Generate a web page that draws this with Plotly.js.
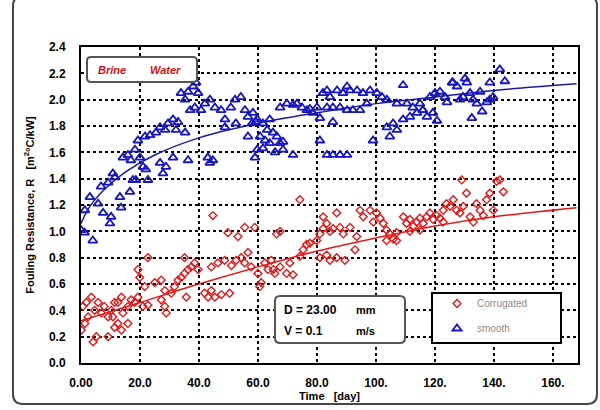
<!DOCTYPE html>
<html><head><meta charset="utf-8">
<script src="https://cdn.plot.ly/plotly-3.0.1.min.js"></script>
<style>html,body{margin:0;padding:0;background:#fff}#chart{width:600px;height:410px}</style>
</head><body><div id="chart"></div>
<script>
// ---- data ----
const smoothX = [0,1.2,4,1.3,3,5.8,7.5,9.8,10.2,6.8,9.2,11.5,10.8,13.2,13.6,16.6,17.6,18.6,22.7,14.2,15.9,16.9,18.3,20,21,22,19.3,21.7,23.4,25.4,26.8,28.5,29.5,31.2,32.9,32.2,35.3,26.8,28.8,27.8,31.2,36.3,33.9,36.3,38,39,39.7,35.3,37,38.6,40.7,42,43.7,45.4,47.5,48.8,50.8,52.2,54.2,55.6,56.6,58.3,59.3,48.8,52.5,56.6,43.7,43,44.7,59,
  59.7,58,61.7,64,63.1,65.1,60.7,62.4,66.4,64,67.5,68.5,59.7,61.7,65.8,68.5,71.9,67.5,69.8,71.9,73.2,74.9,76.6,77.6,80,82,84.4,83.4,86.8,88.8,91.2,90.2,93.6,95.6,98,100.3,102,96.9,94.6,92.2,90.2,87.8,85.4,83.4,78.6,81,85.4,81,83.4,85.4,87.8,90.2,99,103.7,105.8,107.1,104.7,109.2,111.5,113.9,115.9,112.5,109.2,103.7,107.1,110.5,
  114.9,115.9,117.3,119.3,120.7,118.3,120,121.7,123.4,124.1,125.8,126.1,127.5,128.5,129.5,130.2,130.8,131.9,132.9,134.2,135.3,136,132.5,137.6,138.6,139.7,138.6,142,143.7];
const smoothY = [1.01,0.99,0.93,1.16,1.26,1.21,1.14,1.06,1.11,1.34,1.37,1.41,1.44,1.26,1.18,1.30,1.39,1.39,1.39,1.56,1.58,1.54,1.62,1.56,1.49,1.47,1.69,1.72,1.73,1.75,1.79,1.77,1.82,1.85,1.83,1.77,1.75,1.52,1.49,1.44,1.56,1.54,2.05,2.06,2.10,2.13,2.05,2.00,1.92,1.94,1.92,1.97,2.00,1.94,1.92,1.85,1.94,2.00,2.02,1.92,1.87,1.90,1.83,1.79,1.82,1.72,1.52,1.56,1.54,1.56,
  1.85,1.82,1.82,1.85,1.77,1.75,1.72,1.69,1.72,1.67,1.67,1.68,1.62,1.63,1.60,1.62,1.58,1.94,1.97,1.96,1.97,1.94,1.92,1.93,1.94,2.05,2.02,2.07,2.07,2.05,2.07,2.10,2.07,2.05,2.07,2.05,2.02,1.97,1.92,1.92,1.92,1.94,1.94,1.94,1.90,1.86,1.83,1.69,1.58,1.58,1.58,1.58,1.69,1.79,1.82,1.77,1.72,1.85,1.87,1.90,1.92,1.94,2.11,2.00,1.97,1.97,
  1.97,1.92,1.87,1.90,1.84,2.02,2.05,2.06,2.02,1.98,2.13,2.13,2.10,2.00,2.02,2.16,2.13,2.05,2.00,1.97,2.06,1.91,1.86,1.98,2.00,2.02,2.13,2.23,2.14];

const corrX = [0.1,1.3,2.4,0.7,1.8,3.5,4.6,5.8,6.9,7.9,9.2,10.3,11.4,4.1,5.2,9.2,11.4,12.5,13.7,15.9,14.2,15.9,17,18.2,19.3,21,22.7,13.7,12.5,10.8,
  22.7,19.3,19.9,21.6,25,27.2,28.4,27.2,28.4,28.9,30.6,31.7,32.9,34,35.1,36.3,37.4,35.1,38.5,39.7,35.7,41.9,44.2,43.1,45.4,47.6,50.4,44.7,
  44.2,46.4,48.7,51,52.6,54.3,55.5,56.6,53.2,49.8,55.5,58.9,57.7,60,61.1,62.3,64.5,63.4,65.7,60.6,
  65.2,67.5,69.7,70.8,71.9,74.2,75.3,76.5,77.6,79.9,81,82.1,83.3,84.4,85.5,87.8,88.9,91.2,93.5,92.9,84.4,86.7,83.3,89.5,81,66.3,67.5,74.2,82.1,86.7,
  94.6,95.7,98,100.2,101.4,99.1,102.5,103.6,104.7,105.9,107,109.3,110.4,111.5,112.7,113.8,114.9,116,117.2,118.3,119.4,120.6,121.7,122.8,123.9,125.1,126.2,127.3,128.5,129.6,130.7,131.9,133,134.1,135.3,136.4,137.5,138.6,139.8,140.9,142,143.2,129.1,122.8,114.9,111.5,107,103.6];
const corrY = [0.25,0.30,0.35,0.43,0.46,0.50,0.40,0.46,0.38,0.43,0.35,0.40,0.46,0.16,0.20,0.20,0.27,0.30,0.25,0.30,0.38,0.43,0.48,0.46,0.50,0.43,0.44,0.50,0.46,0.35,
  0.80,0.71,0.65,0.58,0.61,0.63,0.55,0.48,0.43,0.38,0.53,0.58,0.63,0.65,0.68,0.71,0.73,0.80,0.76,0.71,0.50,0.53,0.55,0.50,0.50,0.52,0.53,1.12,
  0.73,0.76,0.78,0.74,0.78,0.80,0.76,0.84,0.96,0.99,1.03,1.03,0.73,0.68,0.61,0.76,0.78,0.71,0.68,0.58,
  0.71,0.73,0.68,0.76,0.67,0.81,0.86,0.90,0.91,0.93,0.98,1.02,1.06,1.00,1.02,1.03,0.98,1.03,0.96,0.86,0.78,0.80,0.82,0.78,0.80,0.98,1.00,1.24,1.11,1.14,
  1.16,1.11,1.16,1.14,1.10,1.07,1.06,1.01,0.98,0.94,0.99,1.11,1.06,1.09,1.04,1.07,1.10,1.06,1.11,1.14,1.09,1.12,1.10,1.16,1.21,1.19,1.24,1.16,1.14,1.19,1.29,1.11,1.07,1.21,1.16,1.12,1.24,1.29,1.16,1.38,1.39,1.30,1.39,1.07,1.01,1.00,0.93,0.93];

const smoothFitX = [0,3,8,15,25,40,60,80,100,120,140,168];
const smoothFitY = [1.06,1.19,1.32,1.45,1.58,1.71,1.82,1.90,1.97,2.02,2.07,2.12];
const corrFitX = [0,10,20,40,60,80,100,120,140,168];
const corrFitY = [0.32,0.39,0.46,0.60,0.73,0.85,0.95,1.04,1.11,1.18];

const xTickVals = [0,20,40,60,80,100,120,140,160];
const xTickText = ["0.00","20.0","40.0","60.0","80.0","100.","120.","140.","160."];
const yTickVals = [0,0.2,0.4,0.6,0.8,1.0,1.2,1.4,1.6,1.8,2.0,2.2,2.4];
const yTickText = ["0.0","0.2","0.4","0.6","0.8","1.0","1.2","1.4","1.6","1.8","2.0","2.2","2.4"];

// ---- layout helpers (pixel -> paper) ----
const L = 81, R = 578, T = 47, B = 363;
const W = R - L, H = B - T;
const px = v => (v - L) / W;
const py = v => (B - v) / H;
function rrect(x0, y0, x1, y1, r) {
  const f = (x, y) => px(x).toFixed(5) + ',' + py(y).toFixed(5);
  return 'M' + f(x0 + r, y0) + ' L' + f(x1 - r, y0) + ' Q' + f(x1, y0) + ' ' + f(x1, y0 + r) +
    ' L' + f(x1, y1 - r) + ' Q' + f(x1, y1) + ' ' + f(x1 - r, y1) +
    ' L' + f(x0 + r, y1) + ' Q' + f(x0, y1) + ' ' + f(x0, y1 - r) +
    ' L' + f(x0, y0 + r) + ' Q' + f(x0, y0) + ' ' + f(x0 + r, y0) + ' Z';
}

const red = '#e01818', blue = '#1515c0';
const traces = [
  {x: corrFitX, y: corrFitY, mode: 'lines', line: {color: red, width: 1.5, shape: 'spline'}, showlegend: false, hoverinfo: 'skip'},
  {x: smoothFitX, y: smoothFitY, mode: 'lines', line: {color: '#1a1aa8', width: 1.5, shape: 'spline'}, showlegend: false, hoverinfo: 'skip'},
  {x: corrX, y: corrY, mode: 'markers', name: 'Corrugated', legendgroup: 'a',
   marker: {symbol: 'diamond-open', size: 6, color: red, line: {width: 1.4, color: red}}},
  {x: smoothX, y: smoothY, mode: 'markers', name: 'smooth', legendgroup: 'b',
   marker: {symbol: 'triangle-up-open', size: 8, color: blue, line: {width: 1.8, color: blue}}}
];

const fam = 'Liberation Sans, Arial, sans-serif';
const axFont = {family: fam, size: 12, color: '#000', weight: 'bold'};
const layout = {
  width: 600, height: 410,
  margin: {l: L, r: 600 - R, t: T, b: 410 - B, pad: 0},
  paper_bgcolor: '#fff', plot_bgcolor: '#fff',
  showlegend: true,
  xaxis: {
    range: [0, 168.5], tickvals: xTickVals, ticktext: xTickText, tickfont: axFont,
    showgrid: true, gridcolor: '#000', gridwidth: 1.8, griddash: '3px,3px',
    zeroline: false, showline: true, linecolor: '#000', linewidth: 2, mirror: true,
    ticks: '', ticklabelstandoff: 8,
    title: {text: 'Time   [day]', font: {family: fam, size: 11, color: '#000', weight: 'bold'}, standoff: 2}
  },
  yaxis: {
    range: [0, 2.4], tickvals: yTickVals, ticktext: yTickText, tickfont: axFont,
    showgrid: true, gridcolor: '#000', gridwidth: 1.8, griddash: '3px,3px',
    zeroline: false, showline: true, linecolor: '#000', linewidth: 2, mirror: true,
    ticks: '', ticklabelstandoff: 11,
    title: {text: 'Fouling Resistance, R   [m<sup>2</sup>°C/kW]', font: {family: fam, size: 11, color: '#000', weight: 'bold'}, standoff: 12}
  },
  legend: {
    x: px(437), y: py(289), xanchor: 'left', yanchor: 'top',
    bgcolor: 'rgba(0,0,0,0)', borderwidth: 0, tracegroupgap: 6, traceorder: 'grouped',
    font: {family: fam, size: 10, color: '#8a8a8a'}
  },
  shapes: [
    {type: 'path', xref: 'paper', yref: 'paper', path: rrect(13, -4, 597, 404, 10), line: {color: '#444', width: 2}, layer: 'below'},
    {type: 'path', xref: 'paper', yref: 'paper', path: rrect(87, 57, 197, 82, 4), line: {color: '#555', width: 2}, fillcolor: '#fff', layer: 'above'},
    {type: 'path', xref: 'paper', yref: 'paper', path: rrect(275, 296, 405, 343, 5), line: {color: '#555', width: 2}, fillcolor: '#fff', layer: 'above'},
    {type: 'rect', xref: 'paper', yref: 'paper', x0: px(432), x1: px(561), y0: py(343), y1: py(293), line: {color: '#000', width: 2}, fillcolor: '#fff', layer: 'above'}
  ],
  annotations: [
    {xref: 'paper', yref: 'paper', x: px(96), y: py(69.5), xanchor: 'left', yanchor: 'middle', showarrow: false,
     text: '<b><i>Brine</i></b>', font: {family: fam, size: 11, color: '#d01010'}},
    {xref: 'paper', yref: 'paper', x: px(148), y: py(69.5), xanchor: 'left', yanchor: 'middle', showarrow: false,
     text: '<b><i>Water</i></b>', font: {family: fam, size: 11, color: '#d01010'}},
    {xref: 'paper', yref: 'paper', x: px(282), y: py(310), xanchor: 'left', yanchor: 'middle', showarrow: false,
     text: '<b>D = 23.00</b>', font: {family: fam, size: 12, color: '#000'}},
    {xref: 'paper', yref: 'paper', x: px(354), y: py(310), xanchor: 'left', yanchor: 'middle', showarrow: false,
     text: '<b>mm</b>', font: {family: fam, size: 11, color: '#000'}},
    {xref: 'paper', yref: 'paper', x: px(282), y: py(331), xanchor: 'left', yanchor: 'middle', showarrow: false,
     text: '<b>V = 0.1</b>', font: {family: fam, size: 12, color: '#000'}},
    {xref: 'paper', yref: 'paper', x: px(354), y: py(331), xanchor: 'left', yanchor: 'middle', showarrow: false,
     text: '<b>m/s</b>', font: {family: fam, size: 11, color: '#000'}}
  ]
};

Plotly.newPlot('chart', traces, layout, {staticPlot: true, displayModeBar: false});
</script>
</body></html>
